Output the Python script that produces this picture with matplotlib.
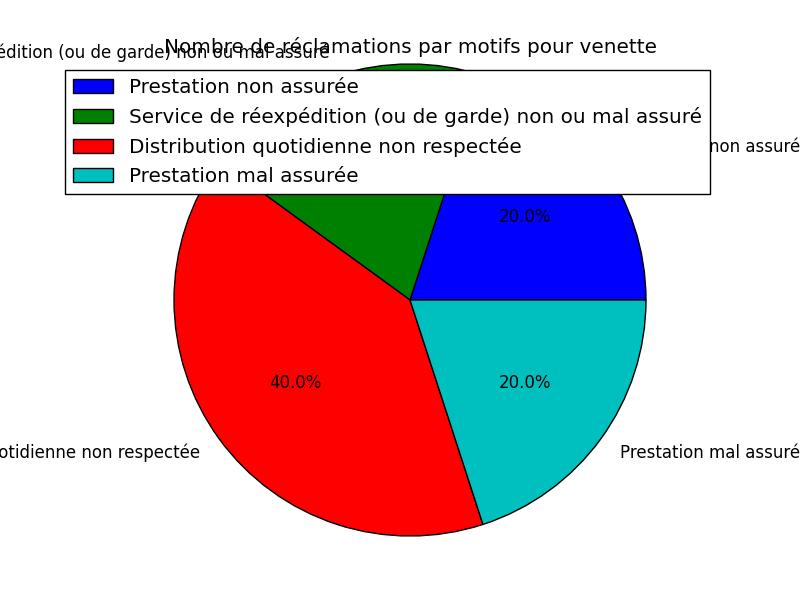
import matplotlib
matplotlib.use('Agg')
import matplotlib.pyplot as plt

plt.style.use('classic')

# data
motifs = ['Prestation non assurée',
          'Service de réexpédition (ou de garde) non ou mal assuré',
          'Distribution quotidienne non respectée',
          'Prestation mal assurée']
nombres = [1, 1, 2, 1]
couleurs = ['b', 'g', 'r', 'c']

fig = plt.figure(figsize=(8, 6), dpi=100)
ax = fig.add_subplot(111)

ax.pie(nombres, labels=motifs, colors=couleurs, autopct='%1.1f%%')
ax.set_aspect('equal', adjustable='datalim')
ax.set_ylim(-1.017, 1.017)
ax.set_xlim(-1.017, 1.017)
ax.set_title('Nombre de réclamations par motifs pour venette')
ax.legend(loc='upper right')

fig.savefig('out.png', dpi=100)
